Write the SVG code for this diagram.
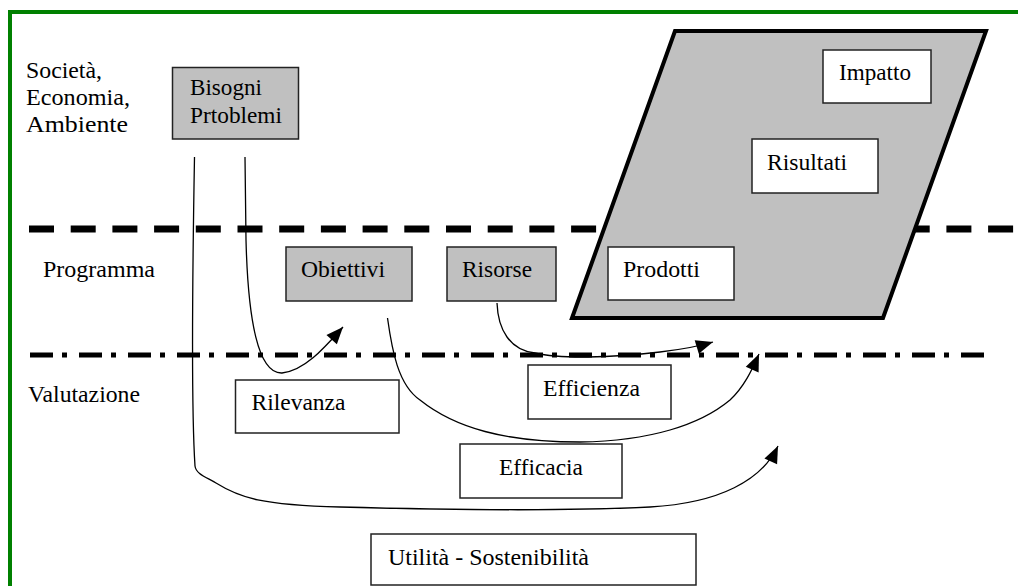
<svg xmlns="http://www.w3.org/2000/svg" width="1018" height="586" viewBox="0 0 1018 586">
<style>
text{font-family:"Liberation Serif","Times New Roman",serif;font-size:23px;fill:#000}
.g{fill:#c0c0c0;stroke:#222;stroke-width:1.5}
.w{fill:#fff;stroke:#222;stroke-width:1.5}
.c{fill:none;stroke:#000;stroke-width:1.3}
</style>
<defs>
<marker id="ah" markerUnits="userSpaceOnUse" markerWidth="22" markerHeight="18" refX="17" refY="7" orient="auto" overflow="visible">
<path d="M0,0 L17,7 L0,14 z" fill="#000"/>
</marker>
</defs>
<rect width="1018" height="586" fill="#fff"/>
<g id="frame">
<line x1="10" y1="12" x2="1018" y2="12" stroke="#008000" stroke-width="4"/>
<line x1="10" y1="10" x2="10" y2="586" stroke="#008000" stroke-width="4"/>
</g>
<g id="separators">
<line x1="29" y1="229" x2="1018" y2="229" stroke="#000" stroke-width="7" stroke-dasharray="25 16.7"/>
<line x1="30" y1="355" x2="986" y2="355" stroke="#000" stroke-width="5" stroke-dasharray="23 9 5 12"/>
</g>
<g id="labels">
<text x="26" y="78" textLength="76" lengthAdjust="spacingAndGlyphs">Società,</text>
<text x="26" y="105" textLength="104" lengthAdjust="spacingAndGlyphs">Economia,</text>
<text x="26" y="132" textLength="102" lengthAdjust="spacingAndGlyphs">Ambiente</text>
<text x="43" y="277" textLength="112" lengthAdjust="spacingAndGlyphs">Programma</text>
<text x="28" y="402" textLength="112" lengthAdjust="spacingAndGlyphs">Valutazione</text>
</g>
<g id="parallelogram">
<polygon points="675,31 986,31 883,318 572,318" fill="#c0c0c0" stroke="#000" stroke-width="4" stroke-linejoin="miter"/>
</g>
<g id="bisogni">
<rect class="g" x="172.5" y="67.5" width="126" height="71.5"/>
<text x="190" y="95" textLength="72" lengthAdjust="spacingAndGlyphs">Bisogni</text>
<text x="190" y="123" textLength="92" lengthAdjust="spacingAndGlyphs">Prtoblemi</text>
</g>
<g id="impatto">
<rect class="w" x="823" y="50" width="108" height="53"/>
<text x="839" y="80" textLength="72" lengthAdjust="spacingAndGlyphs">Impatto</text>
</g>
<g id="risultati">
<rect class="w" x="752" y="139" width="126" height="54"/>
<text x="767" y="170" textLength="80" lengthAdjust="spacingAndGlyphs">Risultati</text>
</g>
<g id="prodotti">
<rect class="w" x="608" y="247" width="126" height="53"/>
<text x="623" y="277" textLength="77" lengthAdjust="spacingAndGlyphs">Prodotti</text>
</g>
<g id="obiettivi">
<rect class="g" x="286" y="247" width="126" height="54"/>
<text x="301" y="277" textLength="84" lengthAdjust="spacingAndGlyphs">Obiettivi</text>
</g>
<g id="risorse">
<rect class="g" x="447" y="247" width="109" height="54"/>
<text x="462" y="277" textLength="70" lengthAdjust="spacingAndGlyphs">Risorse</text>
</g>
<g id="rilevanza">
<rect class="w" x="235.5" y="380" width="163.5" height="53"/>
<text x="251.5" y="410" textLength="94" lengthAdjust="spacingAndGlyphs">Rilevanza</text>
</g>
<g id="efficienza">
<rect class="w" x="528" y="365" width="143" height="54"/>
<text x="543" y="396" textLength="97" lengthAdjust="spacingAndGlyphs">Efficienza</text>
</g>
<g id="efficacia">
<rect class="w" x="460" y="444" width="162" height="54"/>
<text x="499" y="475" textLength="84" lengthAdjust="spacingAndGlyphs">Efficacia</text>
</g>
<g id="utilita">
<rect class="w" x="371" y="534" width="325" height="51"/>
<text x="388" y="565" textLength="201" lengthAdjust="spacingAndGlyphs">Utilità - Sostenibilità</text>
</g>
<g id="connectors">
<path class="c" d="M245,157 L246,240 C248,320 258,374 282,373 C305,371 326,346 343,327" marker-end="url(#ah)"/>
<path class="c" d="M194.5,157 C192,300 192,420 195,466 C196,474 206,477 216,483 C240,498 262,505 340,507 C450,510 570,511 650,507 C720,503 762,480 778,446" marker-end="url(#ah)"/>
<path class="c" d="M387.5,318 C392,350 398,385 420,400 C455,428 505,442 580,442 C650,441 700,425 730,400 C744,387 752,370 759,354" marker-end="url(#ah)"/>
<path class="c" d="M497,303 C498,330 510,350 535,353 C560,359 610,358 660,352 C685,349 700,346 713,342" marker-end="url(#ah)"/>
</g>
</svg>
